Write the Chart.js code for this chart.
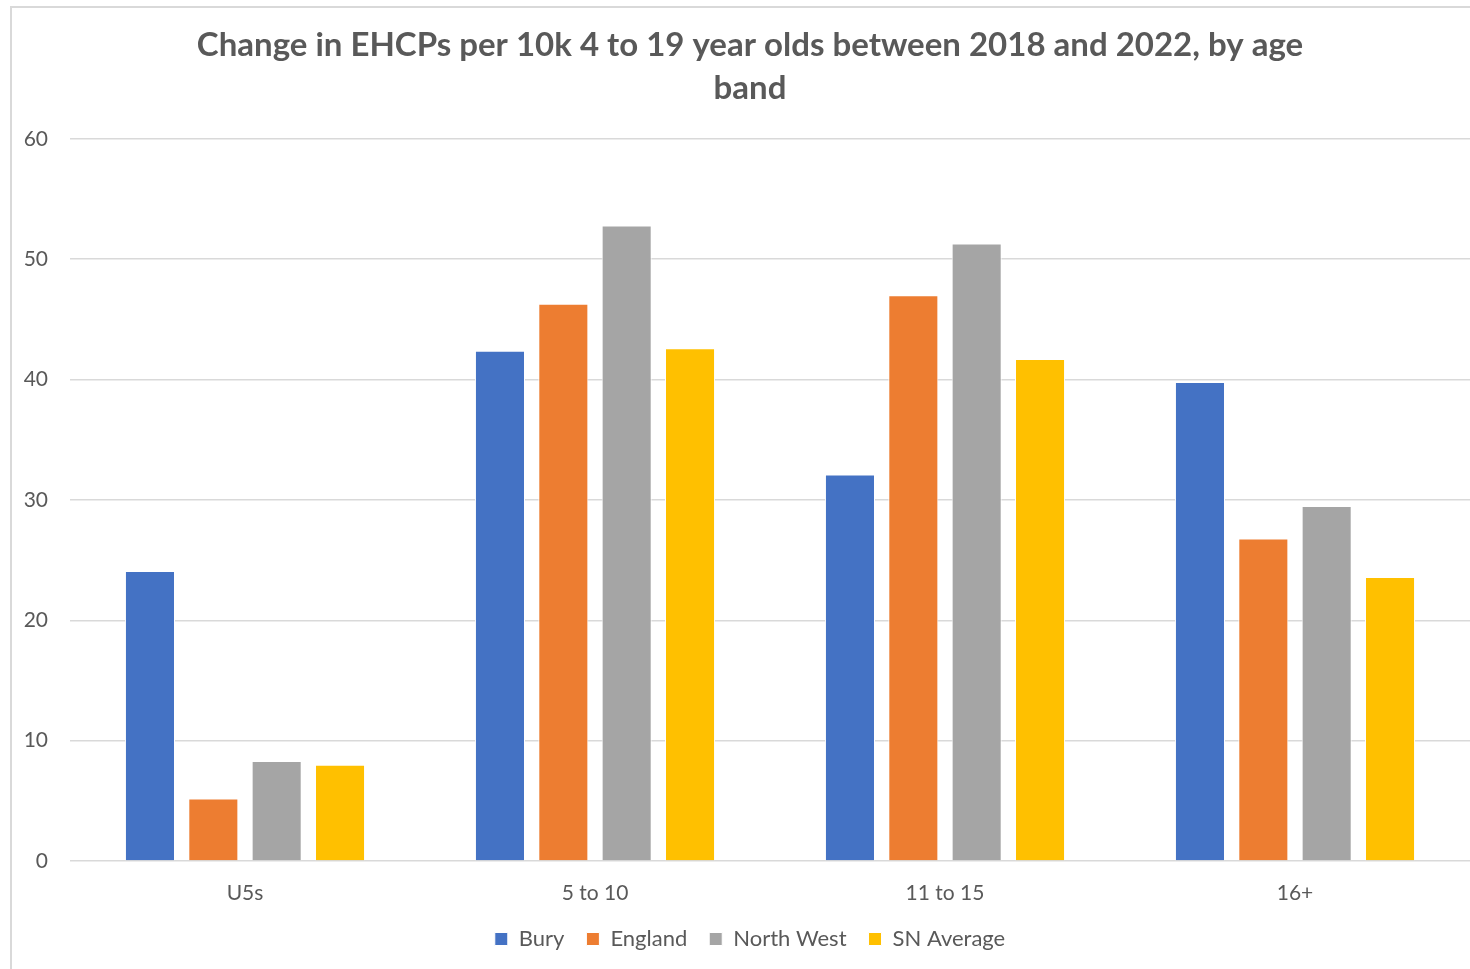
<!DOCTYPE html>
<html>
<head>
<meta charset="utf-8">
<script src="https://cdn.jsdelivr.net/npm/chart.js@4/dist/chart.umd.min.js"></script>
<style>
  body { margin: 0; background: #fff; overflow: hidden; }
  #wrap { position: absolute; left: 0; top: 0; width: 1500px; height: 969px; }
  #frame { position: absolute; left: 10px; top: 6px; width: 1480px; height: 990px;
           border-left: 2px solid #d9d9d9; border-top: 2px solid #d9d9d9; pointer-events: none; }
</style>
</head>
<body>
<div id="wrap"><canvas id="myChart"></canvas></div>
<div id="frame"></div>
<script>
const ageBands = ['U5s', '5 to 10', '11 to 15', '16+'];
const bury = [24.1, 42.4, 32.1, 39.8];
const england = [5.2, 46.3, 47.0, 26.8];
const northWest = [8.3, 52.8, 51.3, 29.5];
const snAverage = [8.0, 42.6, 41.7, 23.6];

const textColor = '#595959';
const fontFamily = 'Lato, "Open Sans", sans-serif';

function makeSet(label, data, color) {
    return {
        label: label,
        data: data,
        backgroundColor: color,
        borderColor: '#ffffff',
        borderWidth: 1,
        categoryPercentage: 0.724,
        barPercentage: 0.79,
    };
}

new Chart('myChart', {
    type: 'bar',
    data: {
        labels: ageBands,
        datasets: [
            makeSet('Bury', bury, '#4472C4'),
            makeSet('England', england, '#ED7D31'),
            makeSet('North West', northWest, '#A5A5A5'),
            makeSet('SN Average', snAverage, '#FFC000'),
        ],
    },
    options: {
        responsive: true,
        maintainAspectRatio: false,
        animation: false,
        layout: { padding: { left: 0, right: 0, top: 0, bottom: 9 } },
        plugins: {
            title: {
                display: true,
                text: ['Change in EHCPs per 10k 4 to 19 year olds between 2018 and 2022, by age', 'band'],
                color: textColor,
                font: { family: fontFamily, size: 33, weight: 'bold', lineHeight: 1.3 },
                padding: { top: 24, bottom: 29 },
            },
            legend: {
                position: 'bottom',
                labels: {
                    color: textColor,
                    font: { family: fontFamily, size: 22 },
                    boxWidth: 13,
                    boxHeight: 13,
                    padding: 22,
                },
            },
            tooltip: { enabled: false },
        },
        scales: {
            x: {
                grid: { display: false },
                border: { display: false },
                ticks: { color: textColor, font: { family: fontFamily, size: 21 }, padding: 12 },
                afterFit: function (scale) { scale.height = 45; },
            },
            y: {
                min: 0,
                max: 60,
                ticks: { stepSize: 10, color: textColor, font: { family: fontFamily, size: 21 }, padding: 22 },
                grid: { color: '#d9d9d9', lineWidth: 1.5, drawTicks: false },
                border: { display: false },
                afterFit: function (scale) { scale.width = 70; },
            },
            // empty right axis: the canvas runs 30px past the window, so the
            // plot still ends at the window edge while title/legend centre on the frame
            spacer: {
                position: 'right',
                grid: { display: false },
                border: { display: false },
                ticks: { display: false },
                afterFit: function (scale) { scale.width = 30; },
            },
        },
    },
});
</script>
</body>
</html>
